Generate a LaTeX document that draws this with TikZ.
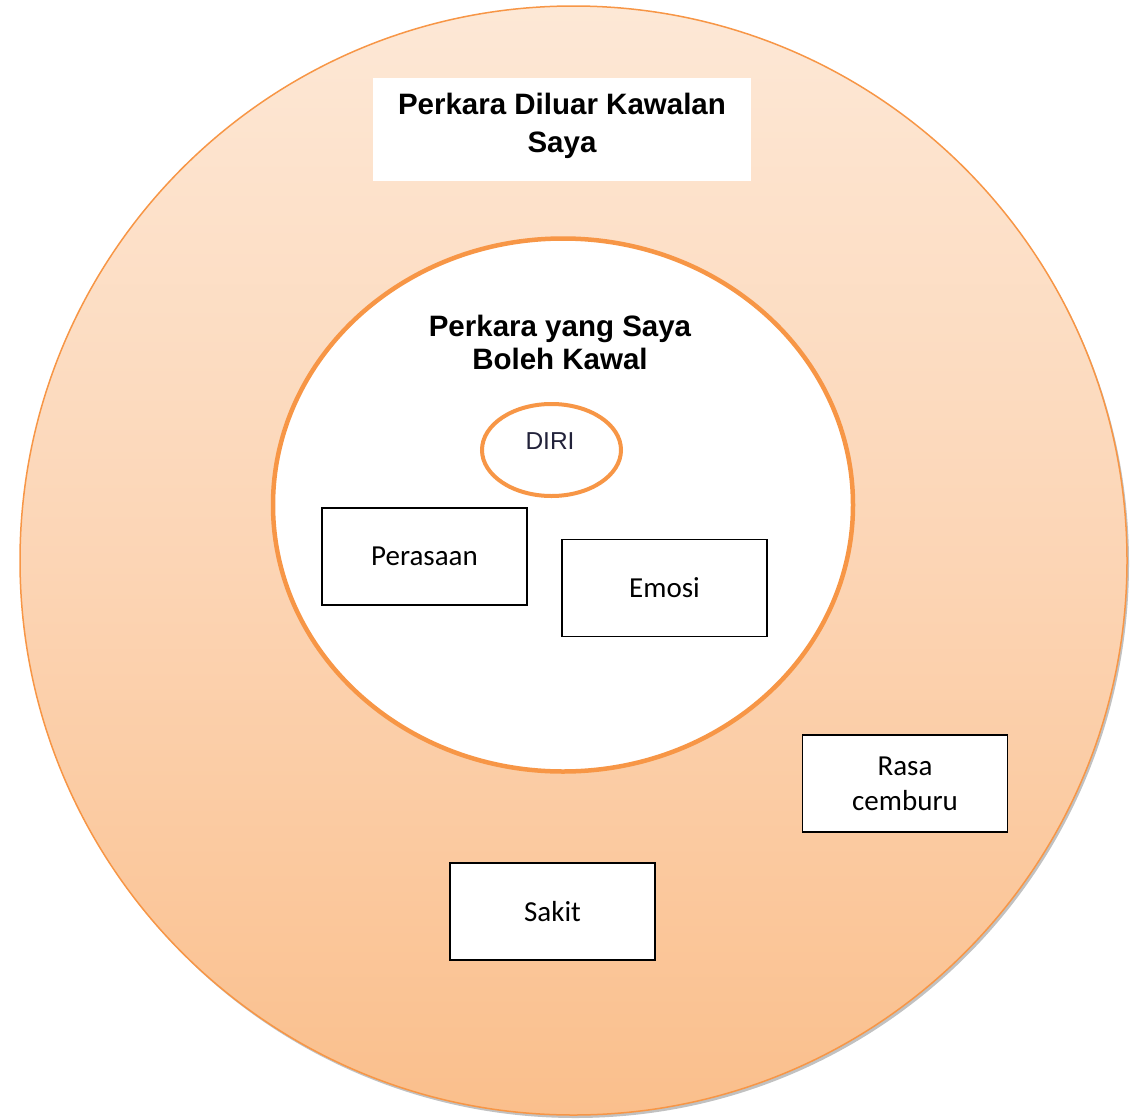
\documentclass[tikz,border=0pt]{standalone}
\usepackage{fontspec}
\setmainfont{Carlito}
\newfontfamily\arialf{Liberation Sans}
\usetikzlibrary{shapes.geometric,shadows}
\definecolor{orline}{HTML}{F79646}
\definecolor{ortop}{HTML}{FDE8D6}
\definecolor{ormid}{HTML}{FCD5B5}
\definecolor{orbot}{HTML}{FABF8C}
\definecolor{diritext}{HTML}{22223A}
\tikzset{
  outerring/.style={ellipse, inner sep=0pt, draw=orline, line width=1.5pt,
    top color=ortop, bottom color=orbot, middle color=ormid,
    drop shadow={shadow xshift=2pt, shadow yshift=-3pt, opacity=0.35, fill=black!70}},
  innerring/.style={ellipse, inner sep=0pt, draw=orline, line width=4.5pt, fill=white},
  selfring/.style={ellipse, inner sep=0pt, draw=orline, line width=4pt, fill=white},
  heading/.style={align=center, font=\arialf\bfseries\fontsize{29.5}{38}\selectfont, text=black, inner sep=0pt},
  itembox/.style={rectangle, draw=black, line width=1.3pt, fill=white, minimum width=205pt, minimum height=97pt, inner sep=0pt, align=center, font=\fontsize{29}{35}\selectfont},
  titlebox/.style={rectangle, fill=white, minimum width=378pt, minimum height=103pt, inner sep=0pt}
}
\begin{document}
\begin{tikzpicture}[x=1pt,y=-1pt]
\useasboundingbox (0,0) rectangle (1130,1119);
\node[outerring, minimum width=1107pt, minimum height=1109pt] (outer) at (573.5,560.5) {};
\node[titlebox] (tbox) at (562,129.5) {};
\node[heading] (ttext) at (562,125.5) {Perkara Diluar Kawalan\\Saya};
\node[innerring, minimum width=580pt, minimum height=533pt] (inner) at (563,505) {};
\node[heading, font=\arialf\bfseries\fontsize{29.5}{33}\selectfont] (itext) at (560,342) {Perkara yang Saya\\Boleh Kawal};
\node[selfring, minimum width=139pt, minimum height=92pt] (diri) at (551.5,450) {};
\node[inner sep=0pt, font=\arialf\fontsize{24.5}{29}\selectfont, text=diritext] (diril) at (550,441.5) {DIRI};
\node[itembox] (perasaan) at (424.5,556.5) {\raisebox{-1pt}{Perasaan}};
\node[itembox] (emosi) at (664.5,588) {\raisebox{-1pt}{Emosi}};
\node[itembox] (rasa) at (905,783.5) {Rasa\\cemburu};
\node[itembox] (sakit) at (552.5,911.5) {\raisebox{-1pt}{Sakit}};
\end{tikzpicture}
\end{document}
